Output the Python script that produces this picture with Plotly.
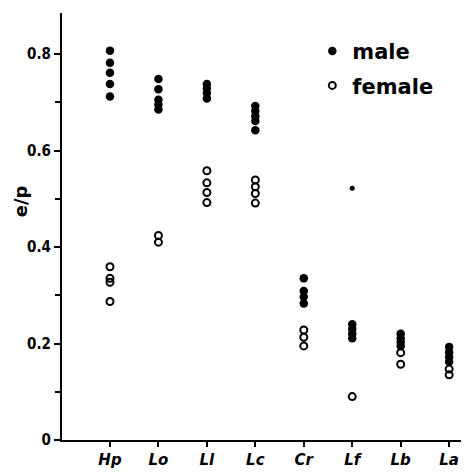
import plotly.graph_objects as go

categories = ["Hp", "Lo", "Ll", "Lc", "Cr", "Lf", "Lb", "La"]

male_values = [
    [0.807, 0.782, 0.761, 0.738, 0.712],
    [0.748, 0.727, 0.705, 0.695, 0.685],
    [0.738, 0.729, 0.719, 0.708],
    [0.692, 0.682, 0.671, 0.661, 0.642],
    [0.335, 0.309, 0.297, 0.283],
    [0.240, 0.230, 0.220, 0.211],
    [0.220, 0.211, 0.203, 0.195],
    [0.193, 0.182, 0.172, 0.162],
]

female_values = [
    [0.359, 0.335, 0.327, 0.287],
    [0.424, 0.410],
    [0.558, 0.533, 0.513, 0.492],
    [0.539, 0.525, 0.511, 0.491],
    [0.228, 0.213, 0.195],
    [0.090],
    [0.181, 0.157],
    [0.147, 0.135],
]

stray_category = ["Lf"]
stray_value = [0.522]

y_ticks = [0, 0.2, 0.4, 0.6, 0.8]
y_tick_labels = ["0", "0.2", "0.4", "0.6", "0.8"]
y_title = "e/p"


def flatten(values):
    xs, ys = [], []
    for cat, vals in zip(categories, values):
        for v in vals:
            xs.append(cat)
            ys.append(v)
    return xs, ys


mx, my = flatten(male_values)
fx, fy = flatten(female_values)

fig = go.Figure()
fig.add_trace(go.Scatter(
    x=mx, y=my, mode="markers", name="male", legendgroup="m",
    marker=dict(symbol="circle", size=8.5, color="black"),
))
fig.add_trace(go.Scatter(
    x=fx, y=fy, mode="markers", name="female", legendgroup="f",
    marker=dict(symbol="circle-open", size=7, color="black", line=dict(width=2)),
))
fig.add_trace(go.Scatter(
    x=stray_category, y=stray_value, mode="markers", showlegend=False,
    marker=dict(symbol="circle", size=5, color="black"),
))

tick_font = dict(family="DejaVu Sans Condensed, Liberation Sans Narrow, DejaVu Sans, sans-serif",
                 size=15, color="black", weight="bold")

# the page body adds an 8px margin, so the figure is sized to fit inside it
fig.update_layout(
    width=461, height=466,
    margin=dict(l=54, r=0, t=5, b=34),
    plot_bgcolor="white", paper_bgcolor="white",
    legend=dict(
        x=0.615, y=0.958, xanchor="left", yanchor="top",
        font=dict(family="DejaVu Sans, sans-serif", size=21, color="black", weight="bold"),
        bgcolor="rgba(0,0,0,0)", tracegroupgap=4, traceorder="grouped",
        itemwidth=30,
    ),
    xaxis=dict(
        type="category", categoryorder="array", categoryarray=categories,
        range=[-0.99, 7.41],
        showgrid=False, zeroline=False,
        showline=True, linecolor="black", linewidth=2,
        ticks="outside", ticklen=5, tickwidth=2, tickcolor="black",
        tickfont=dict(family="DejaVu Sans, sans-serif", size=15, color="black",
                      style="italic", weight="bold"),
    ),
    yaxis=dict(
        range=[0, 0.885],
        showgrid=False, zeroline=False,
        showline=True, linecolor="black", linewidth=2,
        tickvals=y_ticks, ticktext=y_tick_labels,
        ticks="outside", ticklen=6, tickwidth=2, tickcolor="black",
        tickfont=tick_font,
        minor=dict(dtick=0.1, tick0=0.1, ticks="outside", ticklen=5, tickwidth=1.5,
                   tickcolor="black", showgrid=False),
    ),
    annotations=[dict(
        text=y_title, textangle=-90, xref="paper", yref="paper",
        x=-0.1, y=0.56, xanchor="center", yanchor="middle", showarrow=False,
        font=dict(family="DejaVu Sans, sans-serif", size=18, color="black", weight="bold"),
    )],
    showlegend=True,
)

fig.write_html("out.html")
